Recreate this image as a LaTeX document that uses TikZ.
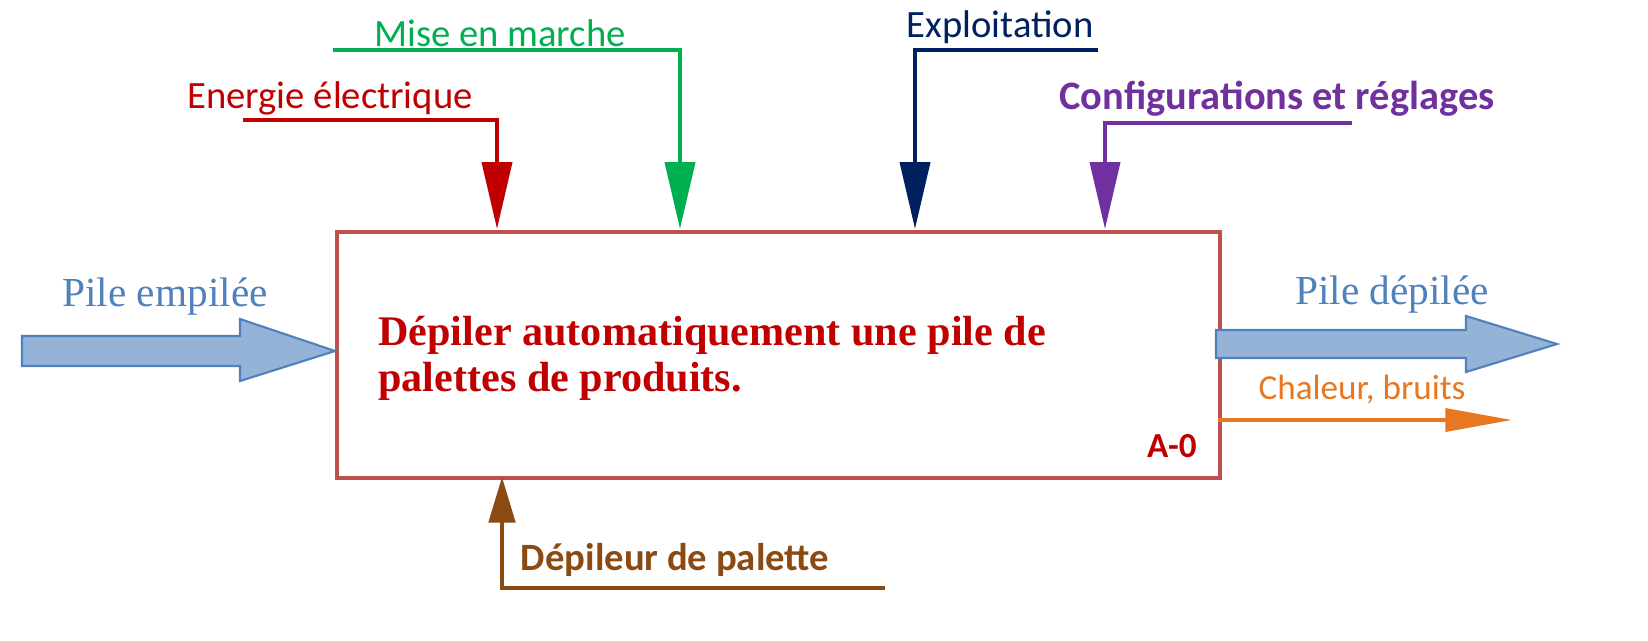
\documentclass[tikz,border=0pt]{standalone}
\usepackage{fontspec}
\setmainfont{Liberation Serif}
\newfontfamily\carl{Carlito}
\usetikzlibrary{arrows.meta}
\definecolor{dred}{HTML}{C00000}
\definecolor{boxc}{HTML}{C0504D}
\definecolor{gr}{HTML}{00B050}
\definecolor{nv}{HTML}{002060}
\definecolor{pu}{HTML}{7030A0}
\definecolor{br}{HTML}{8B4A12}
\definecolor{bl}{HTML}{4F81BD}
\definecolor{blf}{HTML}{95B3D7}
\definecolor{orr}{HTML}{E87722}
\begin{document}
\begin{tikzpicture}[x=0.02cm,y=-0.02cm,
  ctl/.style={line width=2.3pt,-{Triangle[width=17pt,length=38pt]}},
  lab/.style={font=\carl\fontsize{22}{24}\selectfont,inner sep=0pt},
  fat/.style={fill=blf,draw=bl,line width=1.2pt}]
\useasboundingbox (0,0) rectangle (1648,640);
\node[draw=boxc,line width=2.3pt,minimum width=883*0.02cm,minimum height=246*0.02cm,anchor=north west,inner sep=0pt] (box) at (335,230) {};
\node[anchor=north west,align=left,text=dred,font=\bfseries\fontsize{24}{26}\selectfont,inner sep=0pt] (t) at (378,316) {Dépiler automatiquement une pile de\\palettes de produits.};
\node[anchor=south east,text=dred,font=\carl\bfseries\fontsize{20}{22}\selectfont,inner sep=0pt] (a0) at (1197,458) {A-0};
% controls
\coordinate (e0) at (243,120); \coordinate (e1) at (497,120); \coordinate (e2) at (497,229);
\draw[ctl,dred] (e0)--(e1)--(e2);
\node[lab,text=dred] (el) at (330,98) {Energie électrique};
\coordinate (m0) at (333,50); \coordinate (m1) at (680,50); \coordinate (m2) at (680,229);
\draw[ctl,gr] (m0)--(m1)--(m2);
\node[lab,text=gr] (ml) at (500,33) {Mise en marche};
\coordinate (x0) at (1098,50); \coordinate (x1) at (915,50); \coordinate (x2) at (915,229);
\draw[ctl,nv] (x0)--(x1)--(x2);
\node[lab,text=nv] (xl) at (1000,27) {Exploitation};
\coordinate (c0) at (1352,123); \coordinate (c1) at (1105,123); \coordinate (c2) at (1105,229);
\draw[ctl,pu] (c0)--(c1)--(c2);
\node[lab,text=pu,font=\carl\bfseries\fontsize{23}{25}\selectfont] (cl) at (1277,99) {Configurations et réglages};
\coordinate (d0) at (885,588); \coordinate (d1) at (502,588); \coordinate (d2) at (502,477);
\draw[ctl,br,-{Triangle[width=15pt,length=26pt]}] (d0)--(d1)--(d2);
\node[lab,text=br,font=\carl\bfseries\fontsize{22}{24}\selectfont] (dl) at (675,560) {Dépileur de palette};
% fat arrows
\draw[fat] (22,336)--(240,336)--(240,319)--(335,351)--(240,381)--(240,366)--(22,366)--cycle;
\node[text=bl,font=\fontsize{23.5}{25}\selectfont,inner sep=0pt] (pe) at (165,297) {Pile empilée};
\draw[fat] (1216,330)--(1466,330)--(1466,316)--(1557,344)--(1466,372)--(1466,358)--(1216,358)--cycle;
\node[text=bl,font=\fontsize{23.5}{25}\selectfont,inner sep=0pt] (pd) at (1392,295) {Pile dépilée};
\coordinate (h0) at (1218,420); \coordinate (h1) at (1512,420);
\draw[orr,line width=2.3pt,-{Triangle[width=13pt,length=38pt]}] (h0)--(h1);
\node[lab,text=orr,font=\carl\fontsize{20}{22}\selectfont] (hl) at (1362,390) {Chaleur, bruits};
\end{tikzpicture}
\end{document}
